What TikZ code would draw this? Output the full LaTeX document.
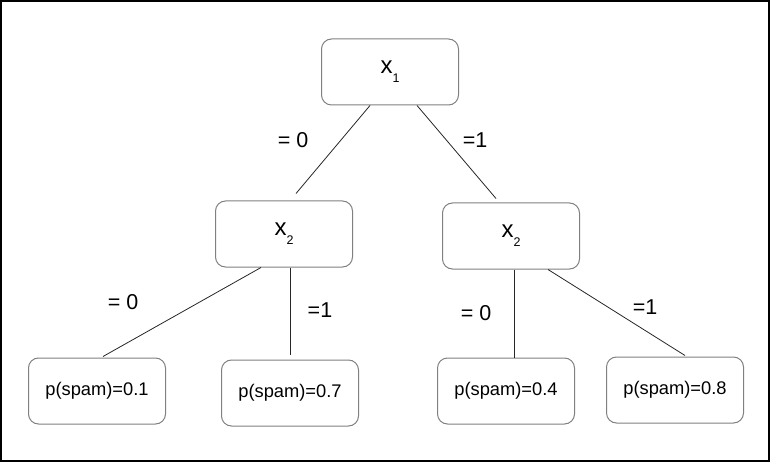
\documentclass[tikz,border=0pt]{standalone}
\usepackage{fontspec}
\setmainfont{Liberation Sans}
\usetikzlibrary{positioning}

\begin{document}
\begin{tikzpicture}[x=1pt,y=-1pt,auto]
    \tikzstyle{every node}=[font=\fontsize{21.5}{21.5}\selectfont]
    \tikzstyle{var}=[draw=black!50,line width=1pt,rounded corners=10pt,
        minimum width=137pt,minimum height=66pt,fill=white]
    \tikzstyle{leaf}=[var,font=\fontsize{18.3}{18.3}\selectfont]
    \tikzstyle{branch}=[draw=black!85,line width=0.8pt]
    \newcommand{\varx}[1]{\fontsize{24}{24}\selectfont x\raisebox{-9pt}{\fontsize{12.5}{12.5}\selectfont #1}}

    \useasboundingbox (0,0) rectangle (770,462);
    \draw[line width=1.6pt] (0.8,0.8) rectangle (769,461);

    \node[var]  (x1)  at (390,72)  {\varx{1}};
    \node[var]  (x2a) at (284,234) {\varx{2}};
    \node[var]  (x2b) at (511,236) {\varx{2}};
    \node[leaf] (p1)  at (97,391)  {p(spam)=0.1};
    \node[leaf] (p7)  at (290,393) {p(spam)=0.7};
    \node[leaf] (p4)  at (506,391) {p(spam)=0.4};
    \node[leaf] (p8)  at (675,390) {p(spam)=0.8};

    \draw[branch] ([xshift=-20pt]x1.south) -- ([xshift=12pt,yshift=7pt]x2a.north);
    \draw[branch] ([xshift=27pt]x1.south) -- ([xshift=-15pt,yshift=4pt]x2b.north);
    \draw[branch] ([xshift=-23pt]x2a.south) -- ([xshift=6pt,yshift=1pt]p1.north);
    \draw[branch] ([xshift=6pt]x2a.south) -- ([yshift=5pt]p7.north);
    \draw[branch] ([xshift=3pt]x2b.south) -- ([xshift=8pt]p4.north);
    \draw[branch] ([xshift=37pt]x2b.south) -- ([xshift=10pt,yshift=1pt]p8.north);

    \node (l1) at (293,140) {= 0};
    \node (l2) at (475,140) {=1};
    \node (l3) at (123,302) {= 0};
    \node (l4) at (320,310) {=1};
    \node (l5) at (476,313) {= 0};
    \node (l6) at (645,307) {=1};
\end{tikzpicture}
\end{document}
